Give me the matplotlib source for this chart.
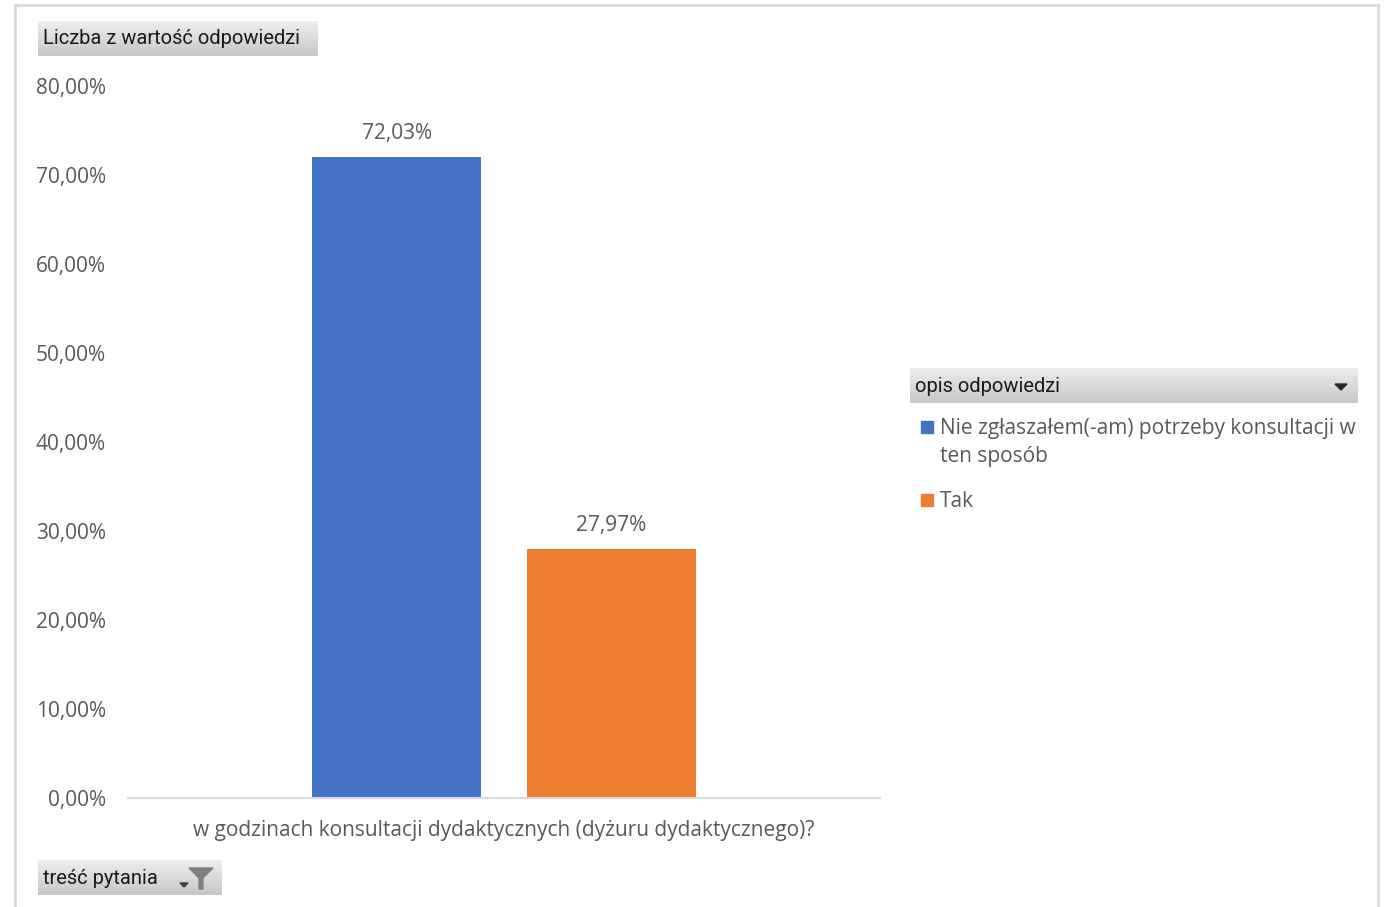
import numpy as np
import matplotlib.pyplot as plt
from matplotlib.patches import Rectangle, Polygon
from matplotlib.lines import Line2D

W, H = 1389, 907

question = "w godzinach konsultacji dydaktycznych (dyżuru dydaktycznego)?"
series_names = ["Nie zgłaszałem(-am) potrzeby konsultacji w\nten sposób", "Tak"]
series_values = [72.03, 27.97]
series_colors = ["#4472C4", "#ED7D31"]
value_labels = ["72,03%", "27,97%"]
yticks = [0, 10, 20, 30, 40, 50, 60, 70, 80]
ytick_labels = ["0,00%", "10,00%", "20,00%", "30,00%", "40,00%", "50,00%", "60,00%", "70,00%", "80,00%"]

TXT = "#595959"
FONT = "Open Sans"
BTN_FONT = "Roboto"
FS = 15


def fx(x):
    return x / W


def fy(y):
    return 1 - y / H


def button(fig, x0, y0, x1, y1):
    # gray gradient button like Excel pivot field buttons
    ax = fig.add_axes([fx(x0), fy(y1), fx(x1) - fx(x0), fy(y0) - fy(y1)])
    grad = np.linspace(0.93, 0.78, 50).reshape(-1, 1)
    ax.imshow(np.repeat(grad, 2, axis=1), cmap="gray", vmin=0, vmax=1,
              aspect="auto", extent=(0, 1, 0, 1), origin="upper")
    ax.set_axis_off()
    return ax


fig = plt.figure(figsize=(W / 100, H / 100), dpi=100)

# outer frame
for (xa, ya, xb, yb) in [(15, 5, 1378, 5), (15, 5, 15, 907), (1378, 5, 1378, 907)]:
    fig.add_artist(Line2D([fx(xa), fx(xb)], [fy(ya), fy(yb)], color="#D9D9D9", lw=2))

# main axes
ax = fig.add_axes([fx(128), fy(798), fx(880) - fx(128), fy(86) - fy(798)])
offsets = [-0.1425, 0.1425]
bars = ax.bar(offsets, series_values, width=0.225, color=series_colors)
for b, lab in zip(bars, value_labels):
    ax.text(b.get_x() + b.get_width() / 2, b.get_height() + 2.6, lab,
            ha="center", va="center", fontsize=FS, color=TXT, family=FONT)

ax.set_xlim(-0.5, 0.5)
ax.set_ylim(0, 80)
ax.set_yticks(yticks)
ax.set_yticklabels(ytick_labels, fontsize=FS, color=TXT, family=FONT)
ax.tick_params(axis="y", length=0, pad=16)
ax.set_xticks([0])
ax.set_xticklabels([question], fontsize=FS, color=TXT, family=FONT)
ax.tick_params(axis="x", length=0, pad=16)
for s in ["top", "right", "left"]:
    ax.spines[s].set_visible(False)
ax.spines["bottom"].set_color("#D9D9D9")
ax.spines["bottom"].set_linewidth(1.5)

# field buttons
button(fig, 38, 21, 318, 56)
fig.text(fx(43), fy(39), "Liczba z wartość odpowiedzi", fontsize=14.5,
         family=BTN_FONT, color="#1a1a1a", va="center", ha="left")

button(fig, 38, 860, 222, 895)
fig.text(fx(43), fy(878), "treść pytania", fontsize=14.5,
         family=BTN_FONT, color="#1a1a1a", va="center", ha="left")
fig.add_artist(Polygon([(fx(189), fy(868)), (fx(213), fy(868)), (fx(203), fy(878)),
                        (fx(203), fy(889)), (fx(199), fy(889)), (fx(199), fy(878))],
                       closed=True, color="#7f7f7f"))
fig.add_artist(Polygon([(fx(180), fy(883)), (fx(188), fy(883)), (fx(184), fy(887))],
                       closed=True, color="#404040"))

button(fig, 910, 368, 1358, 403)
fig.text(fx(915), fy(386), "opis odpowiedzi", fontsize=14.5,
         family=BTN_FONT, color="#1a1a1a", va="center", ha="left")
fig.add_artist(Polygon([(fx(1335), fy(384)), (fx(1347), fy(384)), (fx(1341), fy(390))],
                       closed=True, color="#262626"))

# legend
leg_y = [427, 500]
for name, col, y in zip(series_names, series_colors, leg_y):
    fig.add_artist(Rectangle((fx(921), fy(y + 6)), fx(12), 12 / H, color=col))
    fig.text(fx(940), fy(y - 9), name, fontsize=FS, family=FONT, color=TXT,
             va="top", ha="left", linespacing=1.45)

fig.savefig("out.png", dpi=100)
